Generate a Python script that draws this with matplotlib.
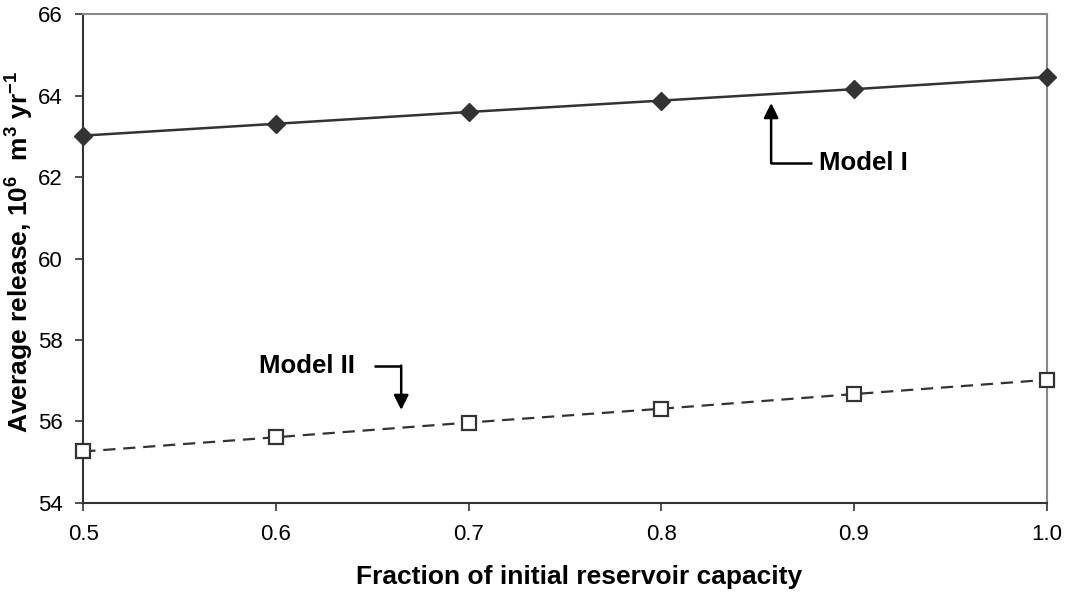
import matplotlib
matplotlib.use('Agg')
import matplotlib.pyplot as plt

plt.rcParams['font.family'] = ['Liberation Sans', 'DejaVu Sans']
plt.rcParams['mathtext.fontset'] = 'custom'
plt.rcParams['mathtext.rm'] = 'Liberation Sans'
plt.rcParams['mathtext.bf'] = 'Liberation Sans:bold'

fraction = [0.5, 0.6, 0.7, 0.8, 0.9, 1.0]
model_1 = [63.02, 63.31, 63.60, 63.88, 64.16, 64.46]
model_2 = [55.26, 55.61, 55.97, 56.31, 56.67, 57.02]

fig = plt.figure(figsize=(10.68, 5.95), dpi=100)
ax = fig.add_axes([0.078, 0.155, 0.902, 0.821])

ax.plot(fraction, model_1, color='#333333', lw=1.8, marker='D', ms=9,
        mfc='#333333', mec='#333333', zorder=3, clip_on=False)
ax.plot(fraction, model_2, color='#333333', lw=1.6, ls=(0, (5.5, 3.5)),
        marker='s', ms=9.5, mfc='white', mec='#333333', mew=1.6, zorder=3,
        clip_on=False)

ax.set_xlim(0.5, 1.0)
ax.set_ylim(54, 66)
ax.set_xticks(fraction)
ax.set_xticklabels(['0.5', '0.6', '0.7', '0.8', '0.9', '1.0'])
ax.set_yticks(range(54, 67, 2))
ax.tick_params(labelsize=16, direction='out', length=6, width=1.2,
               color='#333333')
ax.tick_params(axis='x', pad=9)
ax.tick_params(axis='y', pad=9)

for s in ['left', 'bottom']:
    ax.spines[s].set_color('#333333')
    ax.spines[s].set_linewidth(1.5)
for s in ['top', 'right']:
    ax.spines[s].set_color('#888888')
    ax.spines[s].set_linewidth(1.5)

ax.set_xlabel('Fraction of initial reservoir capacity', fontsize=19,
              fontweight='bold')
ax.xaxis.set_label_coords(0.5145, -0.127)
ax.set_ylabel(r'Average release, 10$^{\mathbf{6}}$  m$^{\mathbf{3}}$ yr$^{\mathbf{-1}}$',
              fontsize=19, fontweight='bold')
ax.yaxis.set_label_coords(-0.0505, 0.514)

# Model I annotation
ax.annotate('', xy=(0.857, 63.82), xytext=(0.857, 62.34),
            arrowprops=dict(arrowstyle='-|>', color='black', lw=1.8,
                            mutation_scale=22, shrinkA=0, shrinkB=0))
ax.plot([0.857, 0.878], [62.34, 62.34], color='black', lw=1.8,
        solid_capstyle='butt')
ax.text(0.882, 62.34, 'Model I', fontsize=18.5, fontweight='bold',
        va='center', ha='left')

# Model II annotation
ax.text(0.641, 57.35, 'Model II', fontsize=18.5, fontweight='bold',
        va='center', ha='right')
ax.plot([0.651, 0.665], [57.37, 57.37], color='black', lw=1.8,
        solid_capstyle='butt')
ax.annotate('', xy=(0.665, 56.28), xytext=(0.665, 57.37),
            arrowprops=dict(arrowstyle='-|>', color='black', lw=1.8,
                            mutation_scale=22, shrinkA=0, shrinkB=0))

fig.savefig('out.png', dpi=100)
